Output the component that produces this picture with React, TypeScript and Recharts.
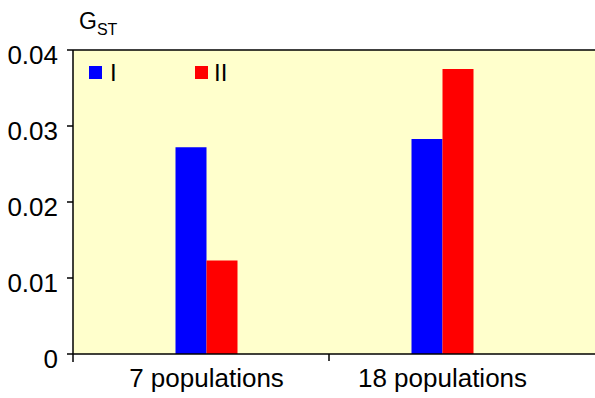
import React from "react";
import { BarChart, Bar, XAxis, YAxis, CartesianGrid, ReferenceLine } from "recharts";

const categories = ["7 populations", "18 populations"];
const seriesI = [0.0272, 0.0283];
const seriesII = [0.0123, 0.0375];
const yTicks = [0, 0.01, 0.02, 0.03, 0.04];
const seriesNames = ["I", "II"];
const seriesColors = ["#0000FF", "#FF0000"];

const data = categories.map((c, i) => ({ name: c, I: seriesI[i], II: seriesII[i] }));

const FONT = "'Liberation Sans', Arial, sans-serif";

const XTick = (props: any) => {
  const { x, y, payload, index } = props;
  return (
    <g>
      <text x={x} y={y + 25} textAnchor="middle" fontFamily={FONT} fontSize={26} fill="#000">
        {payload.value}
      </text>
      {index === 0 && <line x1={x + 122.5} x2={x + 122.5} y1={354} y2={361} stroke="#000" strokeWidth={1.5} />}
    </g>
  );
};

const YTick = (props: any) => {
  const { x, y, payload } = props;
  const v = payload.value;
  const label = v === 0 ? "0" : v.toFixed(2);
  return (
    <text x={x} y={y + 14} textAnchor="end" fontFamily={FONT} fontSize={26} fill="#000">
      {label}
    </text>
  );
};

export default function App() {
  return (
    <div style={{ position: "absolute", left: 0, top: 0, width: 595, height: 398, background: "#fff" }}>
      <BarChart
        width={595}
        height={398}
        data={data}
        margin={{ top: 50, right: 0, bottom: 0, left: 0 }}
        barGap={0}
        barSize={31}
      >
        <CartesianGrid horizontal={false} vertical={false} fill="#FFFFCC" />
        <XAxis
          dataKey="name"
          height={44}
          padding={{ left: 15.5, right: 34.5 }}
          axisLine={{ stroke: "#000", strokeWidth: 1.5 }}
          tickLine={false}
          tick={<XTick />}
          interval={0}
        />
        <YAxis
          width={73}
          domain={[0, 0.04]}
          ticks={yTicks}
          axisLine={{ stroke: "#000", strokeWidth: 1.5 }}
          tickLine={{ stroke: "#000", strokeWidth: 1.5 }}
          tickSize={6}
          tickMargin={9}
          tick={<YTick />}
          interval={0}
        />
        <ReferenceLine y={0.04} stroke="#000" strokeWidth={1.5} />
        <Bar dataKey="I" fill={seriesColors[0]} isAnimationActive={false} />
        <Bar dataKey="II" fill={seriesColors[1]} isAnimationActive={false} />
      </BarChart>
      <svg style={{ position: "absolute", left: 0, top: 0 }} width={595} height={398} pointerEvents="none">
        <line x1={73} x2={73} y1={354} y2={362} stroke="#000" strokeWidth={1.5} />
        <text x={79} y={29} fontFamily={FONT} fontSize={23} fill="#000">
          G<tspan fontSize={16} dy={6}>ST</tspan>
        </text>
        <rect x={89} y={66} width={13} height={13} fill={seriesColors[0]} />
        <text x={110} y={81} fontFamily={FONT} fontSize={24} fill="#000">{seriesNames[0]}</text>
        <rect x={195} y={66} width={13} height={13} fill={seriesColors[1]} />
        <text x={214} y={81} fontFamily={FONT} fontSize={24} fill="#000">{seriesNames[1]}</text>
      </svg>
    </div>
  );
}
